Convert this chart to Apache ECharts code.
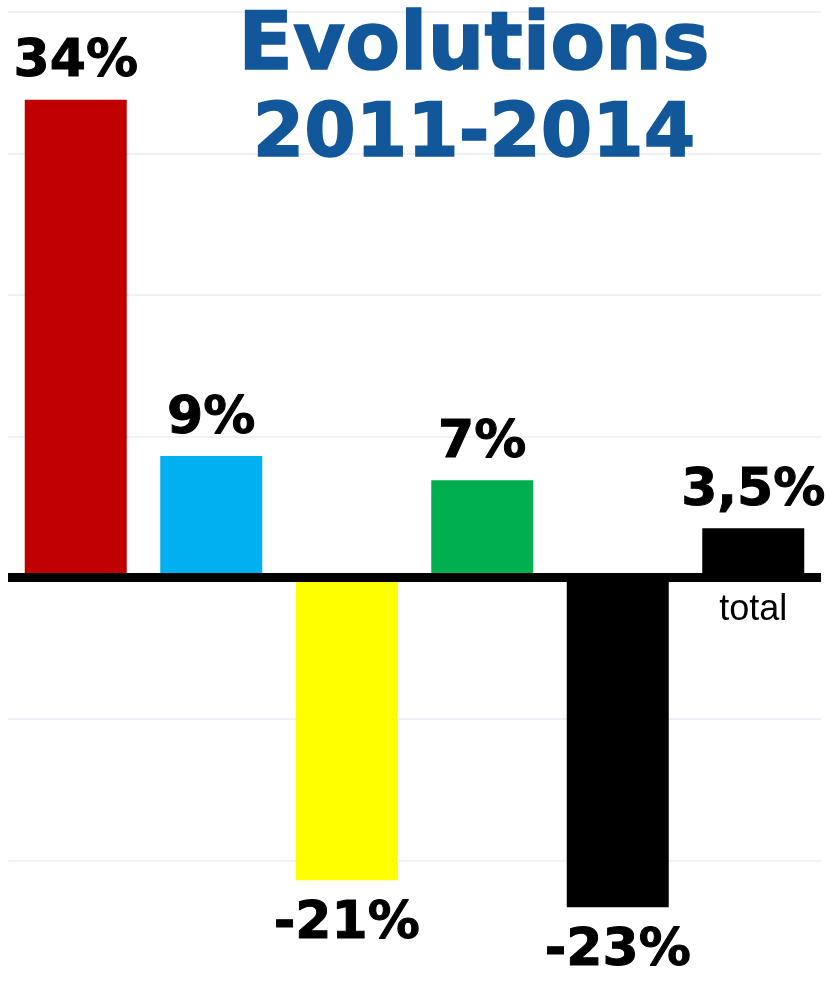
<!DOCTYPE html>
<html>
<head>
<meta charset="utf-8">
<script src="https://cdn.jsdelivr.net/npm/echarts@6/dist/echarts.min.js"></script>
<style>
    html, body { margin: 0; padding: 0; background: #ffffff; }
    #evolutionChart { width: 825px; height: 998px; }
</style>
</head>
<body>
<div id="evolutionChart"></div>
<script>
// Categories (only the last one carries a name)
const categories = ['', '', '', '', '', 'total'];
// Bar heights
const values = [33.8, 8.6, -21.4, 6.9, -23.3, 3.5];
// Texts shown above / below each bar
const valueLabels = ['34%', '9%', '-21%', '7%', '-23%', '3,5%'];
// Y axis ticks
const yTicks = [-30, -20, -10, 0, 10, 20, 30, 40];

const titleLines = ['Evolutions', '2011-2014'];

const colors = ['#C00000', '#00B0F0', '#FFFF00', '#00B050', '#000000', '#000000'];

document.addEventListener('DOMContentLoaded', function() {
    const chartDom = document.getElementById('evolutionChart');
    if (!chartDom) {
        console.error('chart element not found');
        return;
    }
    const myChart = echarts.init(chartDom, null, { renderer: 'canvas' });

    const boldFont = '"DejaVu Sans", Verdana, sans-serif';

    // one data item per bar, negatives get their label underneath
    const barData = values.map((v, i) => ({
        value: v,
        itemStyle: { color: colors[i] },
        label: v < 0 ? { position: 'bottom', distance: 18 } : { position: 'top', distance: 11 }
    }));

    // category names sit just under the zero line (zero-height bars carry them)
    const nameData = categories.map(c => ({
        value: c ? 0 : null,
        label: { show: !!c }
    }));

    const titleStyle = {
        fill: '#12579a',
        stroke: '#12579a',
        lineWidth: 1.5,
        textAlign: 'center',
        textVerticalAlign: 'middle',
        shadowColor: 'rgba(0,0,0,0.25)',
        shadowBlur: 2,
        shadowOffsetX: 2,
        shadowOffsetY: 2
    };

    const option = {
        backgroundColor: '#ffffff',
        animation: false,
        grid: {
            left: 8,
            right: 4,
            top: 12,
            height: 990,
            containLabel: false,
            outerBoundsMode: 'none'
        },
        graphic: [
            {
                type: 'text',
                x: 474,
                y: 48,
                z: 10,
                style: Object.assign({ text: titleLines[0], font: 'bold 80px ' + boldFont }, titleStyle)
            },
            {
                type: 'text',
                x: 474,
                y: 137,
                z: 10,
                style: Object.assign({ text: titleLines[1], font: 'bold 74px ' + boldFont }, titleStyle)
            }
        ],
        xAxis: {
            type: 'category',
            data: categories,
            axisLine: {
                show: true,
                onZero: true,
                lineStyle: { color: '#000000', width: 9, cap: 'butt' }
            },
            axisTick: { show: false },
            axisLabel: { show: false },
            z: 5
        },
        yAxis: {
            type: 'value',
            min: yTicks[0],
            max: yTicks[yTicks.length - 1],
            interval: 10,
            axisLine: { show: false },
            axisTick: { show: false },
            axisLabel: { show: false },
            splitLine: {
                show: true,
                lineStyle: { color: '#e9edf4', width: 1.5 }
            }
        },
        series: [
            {
                type: 'bar',
                data: barData,
                barWidth: 102,
                barGap: '-100%',
                z: 2,
                label: {
                    show: true,
                    color: '#000000',
                    fontSize: 52,
                    fontWeight: 'bold',
                    fontFamily: boldFont,
                    textBorderColor: '#000000',
                    textBorderWidth: 1,
                    formatter: function(p) {
                        return valueLabels[p.dataIndex];
                    }
                }
            },
            {
                type: 'bar',
                data: nameData,
                barWidth: 102,
                barGap: '-100%',
                z: 6,
                silent: true,
                itemStyle: { color: 'transparent' },
                label: {
                    position: 'bottom',
                    distance: 14,
                    color: '#000000',
                    fontSize: 36,
                    fontFamily: '"Liberation Sans", Arial, sans-serif',
                    formatter: function(p) {
                        return categories[p.dataIndex];
                    }
                }
            }
        ]
    };

    myChart.setOption(option);

    window.addEventListener('resize', function() {
        myChart.resize();
    });
});
</script>
</body>
</html>
